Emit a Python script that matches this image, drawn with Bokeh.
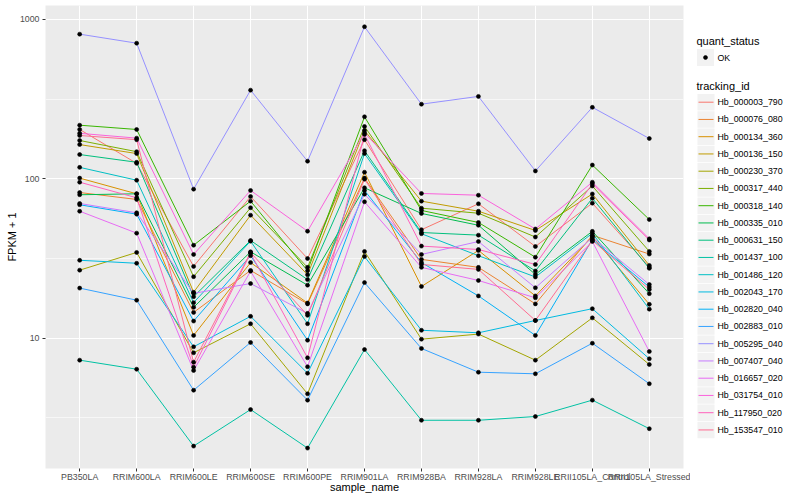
from bokeh.plotting import figure
from bokeh.models import FactorRange, Range1d, FixedTicker, NumeralTickFormatter
from bokeh.layouts import row
from bokeh.embed import file_html
from bokeh.resources import INLINE
from bokeh.core.properties import value

FONT = "Liberation Sans"

samples = ["PB350LA", "RRIM600LA", "RRIM600LE", "RRIM600SE", "RRIM600PE", "RRIM901LA",
           "RRIM928BA", "RRIM928LA", "RRIM928LE", "RRII105LA_Control", "RRII105LA_Stressed"]

tracking_ids = ["Hb_000003_790", "Hb_000076_080", "Hb_000134_360", "Hb_000136_150",
                "Hb_000230_370", "Hb_000317_440", "Hb_000318_140", "Hb_000335_010",
                "Hb_000631_150", "Hb_001437_100", "Hb_001486_120", "Hb_002043_170",
                "Hb_002820_040", "Hb_002883_010", "Hb_005295_040", "Hb_007407_040",
                "Hb_016657_020", "Hb_031754_010", "Hb_117950_020", "Hb_153547_010"]

hb_000003_790 = [204, 125, 28.2, 77.4, 31.6, 176, 47.9, 69.7, 37.6, 70.3, 27.9]
hb_000076_080 = [82.0, 74.2, 14.5, 26.6, 16.4, 101, 31.2, 27.8, 16.4, 44.2, 33.7]
hb_000134_360 = [101, 80.5, 10.4, 29.8, 16.6, 110, 21.1, 35.5, 18.4, 43.4, 16.3]
hb_000136_150 = [164, 144, 19.4, 59.1, 25.0, 201, 72.4, 62.6, 47.4, 80.3, 28.6]
hb_000230_370 = [26.7, 34.5, 8.09, 12.3, 4.47, 35.0, 9.85, 10.6, 7.27, 13.4, 6.83]
hb_000317_440 = [174, 148, 24.3, 65.8, 27.8, 213, 65.4, 60.8, 43.1, 90.1, 35.0]
hb_000318_140 = [217, 204, 38.3, 72.4, 26.5, 245, 63.3, 53.2, 32.2, 122, 55.5]
hb_000335_010 = [79.4, 80.5, 15.6, 34.8, 21.5, 87.8, 60.6, 51.1, 25.1, 46.8, 19.0]
hb_000631_150 = [142, 127, 18.2, 41.0, 23.3, 150, 46.0, 44.3, 26.4, 75.5, 27.4]
hb_001437_100 = [7.27, 6.38, 2.10, 3.56, 2.04, 8.48, 3.05, 3.05, 3.22, 4.08, 2.70]
hb_001486_120 = [118, 98.0, 16.7, 40.6, 12.3, 144, 45.2, 32.9, 24.2, 45.5, 15.2]
hb_002043_170 = [30.8, 29.5, 8.82, 13.7, 6.02, 32.5, 11.2, 10.8, 12.9, 15.3, 7.42]
hb_002820_040 = [68.7, 60.0, 12.8, 32.9, 9.70, 84.5, 29.8, 18.4, 10.4, 41.6, 20.9]
hb_002883_010 = [20.6, 17.3, 4.71, 9.39, 4.08, 22.3, 8.61, 6.11, 5.97, 9.29, 5.17]
hb_005295_040 = [809, 710, 86.1, 360, 129, 900, 294, 329, 112, 281, 179]
hb_007407_040 = [70.0, 61.2, 19.1, 22.0, 14.3, 80.1, 33.5, 40.4, 20.7, 42.8, 21.7]
hb_016657_020 = [62.6, 45.6, 6.26, 26.3, 6.61, 71.7, 27.8, 23.0, 17.9, 40.4, 8.24]
hb_031754_010 = [193, 180, 33.5, 84.5, 46.9, 194, 80.9, 78.9, 48.4, 95.2, 42.0]
hb_117950_020 = [95.2, 76.0, 6.57, 34.1, 7.52, 190, 37.8, 36.0, 29.0, 93.0, 41.3]
hb_153547_010 = [187, 176, 7.06, 34.5, 13.9, 99.4, 29.0, 27.0, 12.9, 41.0, 20.2]

series = [hb_000003_790, hb_000076_080, hb_000134_360, hb_000136_150, hb_000230_370,
          hb_000317_440, hb_000318_140, hb_000335_010, hb_000631_150, hb_001437_100,
          hb_001486_120, hb_002043_170, hb_002820_040, hb_002883_010, hb_005295_040,
          hb_007407_040, hb_016657_020, hb_031754_010, hb_117950_020, hb_153547_010]

colors = ["#F8766D", "#EA8331", "#D89000", "#C09B00", "#A3A500", "#7CAE00", "#39B600",
          "#00BB4E", "#00BF7D", "#00C1A3", "#00BFC4", "#00BAE0", "#00B0F6", "#35A2FF",
          "#9590FF", "#C77CFF", "#E76BF3", "#FA62DB", "#FF62BC", "#FF6C91"]

H = 498
TOP, BOTTOM = 5, 30

p = figure(width=690, height=H,
           x_range=FactorRange(factors=samples, range_padding=0.1, range_padding_units="absolute"),
           y_axis_type="log", y_range=Range1d(1.519, 1224),
           output_backend="svg", toolbar_location=None,
           min_border_left=45, min_border_right=7, min_border_top=TOP, min_border_bottom=BOTTOM)

p.background_fill_color = "#EBEBEB"
p.border_fill_color = "white"
p.outline_line_color = None

for vals, c in zip(series, colors):
    p.line(x=samples, y=vals, line_color=c, line_width=1)
for vals in series:
    p.scatter(x=samples, y=vals, size=4, line_width=0.6, color="black")

yt = FixedTicker(ticks=[10, 100, 1000], minor_ticks=[10 ** 0.5, 10 ** 1.5, 10 ** 2.5])
p.yaxis.ticker = yt
p.ygrid.ticker = yt
p.yaxis.formatter = NumeralTickFormatter(format="0")

for g in (p.xgrid, p.ygrid):
    g.grid_line_color = "white"
    g.grid_line_width = 1.1
p.ygrid.minor_grid_line_color = "white"
p.ygrid.minor_grid_line_width = 0.6

p.xaxis.axis_label = "sample_name"
p.yaxis.axis_label = "FPKM + 1"
for ax in (p.xaxis, p.yaxis):
    ax.axis_line_color = None
    ax.major_tick_line_color = "#333333"
    ax.major_tick_out = 3
    ax.major_tick_in = 0
    ax.minor_tick_line_color = None
    ax.major_label_text_font = FONT
    ax.major_label_text_font_size = "8.8px"
    ax.major_label_text_color = "#4D4D4D"
    ax.axis_label_text_font = FONT
    ax.axis_label_text_font_size = "11px"
    ax.axis_label_text_font_style = "normal"
    ax.axis_label_text_color = "black"
p.xaxis.major_label_standoff = 0
p.xaxis.axis_label_standoff = -4
p.yaxis.major_label_standoff = 2
p.yaxis.axis_label_standoff = -1

# legend panel (data units == page pixels)
lg = figure(width=108, height=H, x_range=Range1d(690, 798), y_range=Range1d(468, 5),
            x_axis_location=None, y_axis_location=None, output_backend="svg",
            toolbar_location=None, min_border_left=0, min_border_right=0,
            min_border_top=TOP, min_border_bottom=BOTTOM)
lg.outline_line_color = None
lg.grid.visible = False
lg.background_fill_color = "white"
lg.border_fill_color = "white"

lg.text(x=[696], y=[40], text=["quant_status"], text_font=value(FONT), text_font_size="11px",
        text_baseline="middle", text_color="black")
lg.rect(x=[705], y=[57], width=17, height=17, fill_color="#F2F2F2", line_color=None)
lg.scatter(x=[705], y=[57], size=4, line_width=0.6, color="black")
lg.text(x=[717], y=[57], text=["OK"], text_font=value(FONT), text_font_size="8.8px",
        text_baseline="middle", text_color="black")

lg.text(x=[696], y=[85], text=["tracking_id"], text_font=value(FONT), text_font_size="11px",
        text_baseline="middle", text_color="black")
ys = [101.7 + 17.25 * i for i in range(len(tracking_ids))]
n = len(ys)
lg.rect(x=[705.5] * n, y=ys, width=17, height=16.5, fill_color="#F2F2F2", line_color=None)
lg.segment(x0=[698] * n, y0=ys, x1=[713] * n, y1=ys, line_color=colors, line_width=1)
lg.text(x=[717] * n, y=ys, text=tracking_ids, text_font=value(FONT), text_font_size="8.8px",
        text_baseline="middle", text_color="black")

layout = row(p, lg)
open("out.html", "w").write(file_html(layout, INLINE))
